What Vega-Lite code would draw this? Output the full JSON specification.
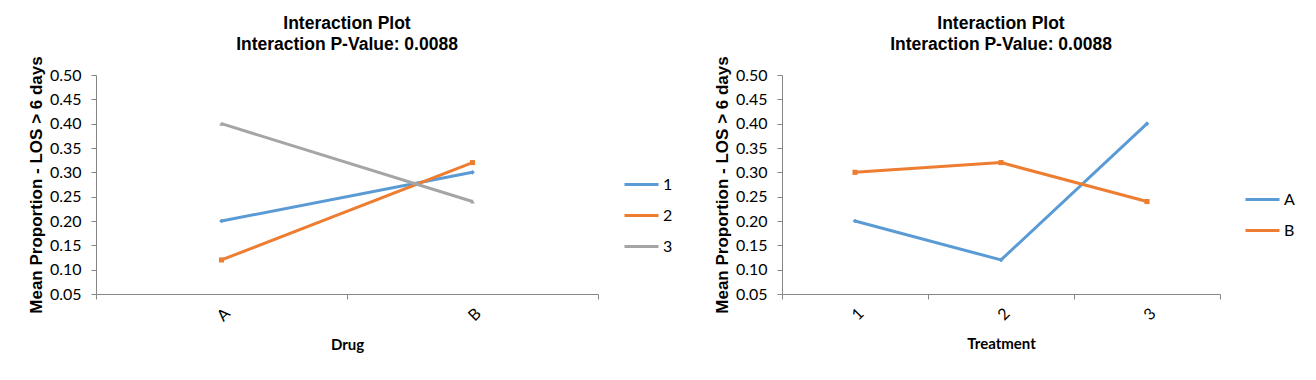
{
  "$schema": "https://vega.github.io/schema/vega-lite/v6.json",
  "padding": {"left": 27, "top": 15, "right": 0, "bottom": 0},
  "background": "white",
  "data": {"values": [
    {"Drug": "A", "Treatment": "1", "value": 0.20},
    {"Drug": "A", "Treatment": "2", "value": 0.12},
    {"Drug": "A", "Treatment": "3", "value": 0.40},
    {"Drug": "B", "Treatment": "1", "value": 0.30},
    {"Drug": "B", "Treatment": "2", "value": 0.32},
    {"Drug": "B", "Treatment": "3", "value": 0.24}
  ]},
  "spacing": 184,
  "bounds": "flush",
  "hconcat": [
    {
      "width": 502,
      "height": 219,
      "title": {"text": ["Interaction Plot", "Interaction P-Value: 0.0088"]},
      "encoding": {
        "x": {"field": "Drug", "type": "nominal", "sort": ["A", "B"],
              "scale": {"type": "band", "paddingInner": 0, "paddingOuter": 0},
              "axis": {"title": "Drug"}},
        "y": {"field": "value", "type": "quantitative",
              "scale": {"domain": [0.05, 0.5], "nice": false, "zero": false},
              "axis": {"title": "Mean Proportion - LOS > 6 days"}}
      },
      "layer": [
        {"mark": {"type": "line", "strokeWidth": 3},
         "encoding": {"color": {"field": "Treatment", "type": "nominal",
                  "scale": {"domain": ["1", "2", "3"], "range": ["#5B9BD5", "#ED7D31", "#A5A5A5"]},
                  "legend": {"orient": "none", "legendX": 527, "legendY": 91, "title": null}}}},
        {"transform": [{"filter": "datum.Treatment == '1'"}],
         "mark": {"type": "point", "filled": true, "size": 22, "opacity": 1, "shape": "diamond", "color": "#5B9BD5"}},
        {"transform": [{"filter": "datum.Treatment == '2'"}],
         "mark": {"type": "point", "filled": true, "size": 26, "opacity": 1, "shape": "square", "color": "#ED7D31"}},
        {"transform": [{"filter": "datum.Treatment == '3'"}],
         "mark": {"type": "point", "filled": true, "size": 22, "opacity": 1, "shape": "triangle-up", "color": "#A5A5A5"}}
      ]
    },
    {
      "width": 438,
      "height": 219,
      "title": {"text": ["Interaction Plot", "Interaction P-Value: 0.0088"]},
      "encoding": {
        "x": {"field": "Treatment", "type": "nominal", "sort": ["1", "2", "3"],
              "scale": {"type": "band", "paddingInner": 0, "paddingOuter": 0},
              "axis": {"title": "Treatment"}},
        "y": {"field": "value", "type": "quantitative",
              "scale": {"domain": [0.05, 0.5], "nice": false, "zero": false},
              "axis": {"title": "Mean Proportion - LOS > 6 days"}}
      },
      "layer": [
        {"mark": {"type": "line", "strokeWidth": 3},
         "encoding": {"color": {"field": "Drug", "type": "nominal",
                  "scale": {"domain": ["A", "B"], "range": ["#5B9BD5", "#ED7D31"]},
                  "legend": {"orient": "none", "legendX": 462, "legendY": 106, "title": null}}}},
        {"transform": [{"filter": "datum.Drug == 'A'"}],
         "mark": {"type": "point", "filled": true, "size": 22, "opacity": 1, "shape": "diamond", "color": "#5B9BD5"}},
        {"transform": [{"filter": "datum.Drug == 'B'"}],
         "mark": {"type": "point", "filled": true, "size": 26, "opacity": 1, "shape": "square", "color": "#ED7D31"}}
      ]
    }
  ],
  "resolve": {"scale": {"color": "independent", "x": "independent"}},
  "config": {
    "view": {"stroke": null},
    "title": {"font": "Liberation Sans", "fontSize": 17.5, "fontWeight": "bold", "color": "black",
              "anchor": "middle", "frame": "group", "lineHeight": 21, "offset": 2},
    "axis": {"domainColor": "#868686", "tickColor": "#868686", "grid": false,
             "labelFont": "Lato", "labelFontSize": 16, "labelColor": "black",
             "titleColor": "black", "tickSize": 5},
    "axisY": {"format": ".2f", "tickCount": 10, "labelPadding": 10,
              "titleFont": "Liberation Sans", "titleFontSize": 17, "titleFontWeight": "bold", "titlePadding": 4},
    "axisX": {"labelAngle": -45, "tickBand": "extent", "labelPadding": 6,
              "titleFont": "Lato", "titleFontSize": 15, "titleFontWeight": "bold", "titlePadding": 14},
    "legend": {"labelFont": "Lato", "labelFontSize": 16, "labelColor": "black",
               "symbolType": "stroke", "symbolSize": 1156, "symbolStrokeWidth": 3,
               "rowPadding": 4, "labelOffset": 3, "padding": 0}
  }
}
